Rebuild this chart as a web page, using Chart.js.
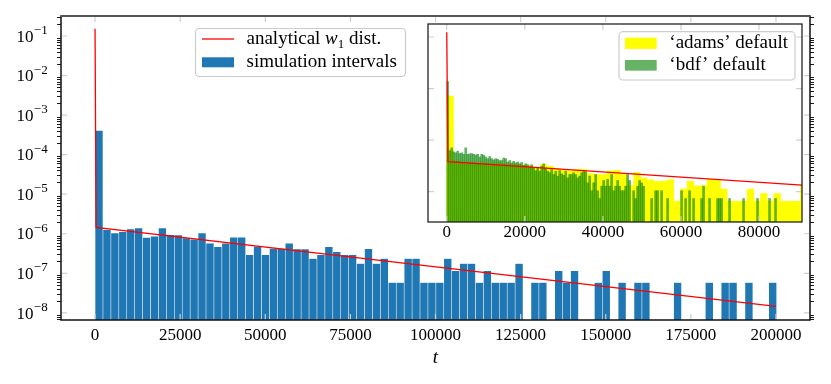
<!DOCTYPE html>
<html>
<head>
<meta charset="utf-8">
<script src="https://cdn.jsdelivr.net/npm/chart.js@4.4.1/dist/chart.umd.min.js"></script>
<style>
  html, body { margin: 0; padding: 0; background: #fff; }
  #wrap { position: relative; width: 831px; height: 384px; }
  #mainCanvas { position: absolute; left: 0; top: 0; }
  #insetCanvas { position: absolute; left: 400px; top: 0; }
</style>
</head>
<body>
<div id="wrap">
  <canvas id="mainCanvas" width="831" height="384"></canvas>
  <canvas id="insetCanvas" width="431" height="260"></canvas>
</div>
<script>
// ---- data ----
// main histogram ("simulation intervals"), density per bin
const simBinWidth = 2328;
const simDensity = [
  4.1e-4, 1.27e-6, 1.04e-6, 1.12e-6, 1.32e-6, 1.39e-6, 8.1e-7, 8.7e-7, 1.39e-6, 9.4e-7,
  9.3e-7, 7.8e-7, 7.3e-7, 1.04e-6, 5.8e-7, 4.7e-7, 5.8e-7, 8.2e-7, 8.2e-7, 2.94e-7,
  4.8e-7, 2.94e-7, 4.25e-7, 4.25e-7, 5.8e-7, 4.1e-7, 4.1e-7, 2.37e-7, 2.94e-7, 4.7e-7,
  3.5e-7, 2.94e-7, 2.94e-7, 1.77e-7, 4.2e-7, 1.77e-7, 2.37e-7, 5.85e-8, 5.85e-8, 2.37e-7,
  2.37e-7, 5.85e-8, 5.85e-8, 5.85e-8, 2.37e-7, 1.17e-7, 1.77e-7, 1.77e-7, 5.85e-8, 1.17e-7,
  5.85e-8, 5.85e-8, 5.85e-8, 1.77e-7, 0, 5.85e-8, 5.85e-8, 0, 1.17e-7, 5.85e-8,
  1.17e-7, 0, 0, 5.85e-8, 1.17e-7, 0, 5.85e-8, 0, 5.85e-8, 5.85e-8,
  0, 0, 0, 5.85e-8, 0, 0, 0, 5.85e-8, 0, 5.85e-8,
  5.85e-8, 0, 5.85e-8, 0, 0, 5.85e-8
];

// analytical w1 distribution (spike at 0, then exponential tail)
const w1T = [0, 300, 200000];
const w1P = [0.152, 1.45e-6, 1.45e-8];

// inset: 'adams' default
const adamsBinWidth = 1710;
const adamsDensity = [
  5.1e-4, 1.5e-6, 1.4e-6, 1.4e-6, 1.3e-6, 1.35e-6, 1.25e-6, 1.3e-6, 1.2e-6, 1.15e-6,
  1.1e-6, 1.05e-6, 1.0e-6, 8.4e-7, 1.13e-6, 9.5e-7, 8.0e-7, 7.2e-7, 6.3e-7, 7.2e-7,
  7.2e-7, 5.0e-7, 4.6e-7, 4.6e-7, 6.3e-7, 6.7e-7, 4.6e-7, 1.68e-7, 5.5e-7, 3.4e-7,
  2.9e-7, 2.5e-7, 2.5e-7, 2.9e-7, 4.2e-8, 1.26e-7, 2.52e-7, 1.68e-7, 1.68e-7, 2.94e-7,
  2.94e-7, 1.26e-7, 4.2e-8, 4.2e-8, 4.2e-8, 1.26e-7, 4.2e-8, 8.4e-8, 4.2e-8, 8.4e-8,
  4.2e-8, 4.2e-8, 4.2e-8, 1.68e-7
];

// inset: 'bdf' default
const bdfBinWidth = 512;
const bdfDensity = [
  1.86e-3, 3.9e-6, 5.0e-6, 3.5e-6, 3.2e-6, 3.7e-6, 3.0e-6, 3.2e-6, 2.8e-6, 5.0e-6,
  2.8e-6, 2.9e-6, 3.0e-6, 2.8e-6, 2.6e-6, 2.8e-6, 2.2e-6, 2.8e-6, 2.6e-6, 2.2e-6,
  1.9e-6, 2.3e-6, 1.9e-6, 1.7e-6, 1.9e-6, 1.8e-6, 1.6e-6, 1.6e-6, 2.0e-6, 1.9e-6,
  1.4e-6, 1.6e-6, 1.3e-6, 1.5e-6, 1.3e-6, 1.4e-6, 1.2e-6, 1.35e-6, 1.05e-6, 1.2e-6,
  1.1e-6, 9.7e-7, 1.1e-6, 8.0e-7, 6.5e-7, 8.3e-7, 6.2e-7, 9.7e-7, 1.2e-6, 8.3e-7,
  6.2e-7, 5.4e-7, 7.2e-7, 4.6e-7, 6.2e-7, 4.0e-7, 6.5e-7, 4.9e-7, 4.3e-7, 6.2e-7,
  3.4e-7, 4.6e-7, 4.6e-7, 5.4e-7, 4.6e-7, 3.4e-7, 4.0e-7, 5.4e-7, 6.2e-7, 5.9e-7,
  2.2e-7, 4.0e-7, 1.08e-7, 2.2e-7, 4.6e-7, 1.08e-7, 5.4e-8, 1.62e-7, 2.7e-7, 1.62e-7,
  3.0e-7, 1.62e-7, 4.6e-7, 1.08e-7, 1.62e-7, 2.7e-7, 1.62e-7, 1.08e-7, 1.08e-7, 1.62e-7,
  4.6e-7, 2.7e-7, 0, 1.08e-7, 5.4e-8, 1.62e-7, 2.7e-7, 2.16e-7, 1.62e-7, 0,
  0, 0, 5.4e-8, 0, 1.08e-7, 1.08e-7, 0, 1.08e-7, 0, 0,
  5.4e-8, 0, 0, 0, 0, 0, 0, 1.08e-7, 0, 5.4e-8,
  0, 1.08e-7, 0, 5.4e-8, 0, 0, 0, 5.4e-8, 1.62e-7, 0,
  0, 5.4e-8, 0, 0, 0, 5.4e-8, 5.4e-8, 5.4e-8, 0, 0,
  0, 5.4e-8, 0, 0, 0, 0, 0, 0, 5.4e-8, 0,
  0, 0, 0, 0, 0, 5.4e-8, 0, 0, 0, 0,
  0, 5.4e-8, 0, 0, 5.4e-8
];

const mainXTicks = [0, 25000, 50000, 75000, 100000, 125000, 150000, 175000, 200000];
const insetXTicks = [0, 20000, 40000, 60000, 80000];
const mainYDecades = [-8, -7, -6, -5, -4, -3, -2, -1];
const insetYDecades = [-7, -5, -3, -1];

const yMin = 6.6e-9, yMax = 0.32;
const serif = '"Liberation Serif", "DejaVu Serif", serif';

function toBars(values, width) {
  return values.map((v, i) => ({ x: (i + 0.5) * width, y: v }));
}
function toLine(ts, ps) {
  return ts.map((t, i) => ({ x: t, y: ps[i] }));
}

function drawLegend(ctx, box, rows) {
  ctx.save();
  ctx.beginPath();
  if (ctx.roundRect) ctx.roundRect(box.x, box.y, box.w, box.h, 4);
  else ctx.rect(box.x, box.y, box.w, box.h);
  ctx.fillStyle = 'rgba(255,255,255,0.8)';
  ctx.fill();
  ctx.strokeStyle = '#cccccc';
  ctx.lineWidth = 1.2;
  ctx.stroke();
  rows.forEach(r => {
    if (r.kind === 'line') {
      ctx.strokeStyle = r.color;
      ctx.lineWidth = 1.3;
      ctx.beginPath();
      ctx.moveTo(r.hx, r.hy);
      ctx.lineTo(r.hx + r.hw, r.hy);
      ctx.stroke();
    } else {
      ctx.fillStyle = r.color;
      ctx.fillRect(r.hx, r.hy - r.hh / 2, r.hw, r.hh);
    }
    let tx = r.tx;
    ctx.fillStyle = '#000';
    ctx.textBaseline = 'alphabetic';
    ctx.textAlign = 'left';
    r.parts.forEach(p => {
      ctx.font = (p.italic ? 'italic ' : '') + (p.size || 19) + 'px ' + serif;
      ctx.fillText(p.text, tx, r.ty + (p.dy || 0));
      tx += ctx.measureText(p.text).width;
    });
  });
  ctx.restore();
}

const whiteBg = {
  id: 'whiteBg',
  beforeDraw(chart) {
    const ctx = chart.ctx;
    ctx.save();
    ctx.fillStyle = '#fff';
    ctx.fillRect(0, 0, chart.width, chart.height);
    ctx.restore();
  }
};

const mainDecor = {
  id: 'mainDecor',
  afterDatasetsDraw(chart) {
    const { ctx, chartArea: a, scales: { x, y } } = chart;
    ctx.save();
    // major ticks, pointing in, light grey
    ctx.strokeStyle = '#cfcfcf';
    ctx.lineWidth = 1.2;
    ctx.beginPath();
    mainXTicks.forEach(v => {
      const px = x.getPixelForValue(v);
      ctx.moveTo(px, a.bottom); ctx.lineTo(px, a.bottom - 6);
      ctx.moveTo(px, a.top); ctx.lineTo(px, a.top + 6);
    });
    mainYDecades.forEach(d => {
      const py = y.getPixelForValue(Math.pow(10, d));
      ctx.moveTo(a.left, py); ctx.lineTo(a.left + 6, py);
      ctx.moveTo(a.right, py); ctx.lineTo(a.right - 6, py);
    });
    ctx.stroke();
    // minor ticks, pointing out, black
    ctx.strokeStyle = '#000';
    ctx.lineWidth = 0.9;
    ctx.beginPath();
    for (let d = -9; d <= 0; d++) {
      for (let m = 2; m <= 9; m++) {
        const v = m * Math.pow(10, d);
        if (v < y.min || v > y.max) continue;
        const py = Math.round(y.getPixelForValue(v)) + 0.5;
        ctx.moveTo(a.left, py); ctx.lineTo(a.left - 4, py);
        ctx.moveTo(a.right, py); ctx.lineTo(a.right + 4, py);
      }
    }
    ctx.stroke();
    // frame
    ctx.strokeStyle = '#111';
    ctx.lineWidth = 1.5;
    ctx.beginPath();
    ctx.moveTo(a.left, a.top); ctx.lineTo(a.left, a.bottom);
    ctx.lineTo(a.right, a.bottom); ctx.lineTo(a.right, a.top);
    ctx.stroke();
    ctx.strokeStyle = '#555';
    ctx.lineWidth = 2;
    ctx.beginPath();
    ctx.moveTo(a.left - 0.75, a.top); ctx.lineTo(a.right + 0.75, a.top);
    ctx.stroke();
    // y tick labels 10^n
    ctx.fillStyle = '#000';
    ctx.textAlign = 'left';
    ctx.textBaseline = 'alphabetic';
    mainYDecades.forEach(d => {
      const py = y.getPixelForValue(Math.pow(10, d));
      ctx.font = '17px ' + serif;
      ctx.fillText('10', 16.5, py + 5.7);
      ctx.font = '13px ' + serif;
      ctx.fillText('\u2212' + (-d), 33.8, py - 2);
    });
    ctx.restore();
  },
  afterDraw(chart) {
    drawLegend(chart.ctx, { x: 195.5, y: 28.5, w: 210, h: 48 }, [
      { kind: 'line', color: '#ff0000', hx: 202, hw: 32, hy: 39, tx: 246.5, ty: 44,
        parts: [{ text: 'analytical ' }, { text: 'w', italic: true }, { text: '1', size: 13, dy: 3.5 }, { text: ' dist.' }] },
      { kind: 'patch', color: '#1f77b4', hx: 202, hw: 32, hy: 62.3, hh: 10, tx: 246.5, ty: 67,
        parts: [{ text: 'simulation intervals' }] }
    ]);
  }
};

const insetDecor = {
  id: 'insetDecor',
  beforeDraw(chart) {
    const { ctx, chartArea: a } = chart;
    ctx.save();
    ctx.fillStyle = '#fff';
    ctx.fillRect(a.left, a.top, a.right - a.left, a.bottom - a.top);
    ctx.restore();
  },
  afterDatasetsDraw(chart) {
    const { ctx, chartArea: a, scales: { x, y } } = chart;
    ctx.save();
    ctx.strokeStyle = '#cfcfcf';
    ctx.lineWidth = 1.2;
    ctx.beginPath();
    insetXTicks.forEach(v => {
      const px = x.getPixelForValue(v);
      ctx.moveTo(px, a.bottom); ctx.lineTo(px, a.bottom - 6);
      ctx.moveTo(px, a.top); ctx.lineTo(px, a.top + 6);
    });
    insetYDecades.forEach(d => {
      const py = y.getPixelForValue(Math.pow(10, d));
      ctx.moveTo(a.left, py); ctx.lineTo(a.left + 6, py);
      ctx.moveTo(a.right, py); ctx.lineTo(a.right - 6, py);
    });
    ctx.stroke();
    ctx.strokeStyle = '#111';
    ctx.lineWidth = 1.2;
    ctx.strokeRect(a.left, a.top, a.right - a.left, a.bottom - a.top);
    ctx.restore();
  },
  afterDraw(chart) {
    drawLegend(chart.ctx, { x: 219, y: 31.7, w: 176, h: 48.3 }, [
      { kind: 'patch', color: '#ffff00', hx: 225, hw: 31.7, hy: 43.3, hh: 11.3, tx: 269.3, ty: 48,
        parts: [{ text: '\u2018adams\u2019 default' }] },
      { kind: 'patch', color: 'rgba(0,128,0,0.6)', hx: 225, hw: 31.7, hy: 65.3, hh: 10.7, tx: 269.3, ty: 70,
        parts: [{ text: '\u2018bdf\u2019 default' }] }
    ]);
  }
};

const barStyle = { barPercentage: 1, categoryPercentage: 1, grouped: false };

new Chart(document.getElementById('mainCanvas'), {
  type: 'bar',
  data: {
    datasets: [
      { type: 'line', label: 'analytical w1 dist.', data: toLine(w1T, w1P),
        borderColor: '#ff0000', borderWidth: 1.3, pointRadius: 0, tension: 0, order: 0 },
      Object.assign({ type: 'bar', label: 'simulation intervals', data: toBars(simDensity, simBinWidth),
        backgroundColor: '#1f77b4', borderColor: 'rgba(255,255,255,0.16)', borderWidth: 0.6, order: 2 }, barStyle)
    ]
  },
  options: {
    responsive: false,
    animation: false,
    events: [],
    devicePixelRatio: 1,
    layout: { padding: { left: 61, top: 16, right: 21, bottom: 0 } },
    plugins: { legend: { display: false }, tooltip: { enabled: false } },
    scales: {
      x: {
        type: 'linear', offset: false, min: -10000, max: 210000,
        afterBuildTicks: s => { s.ticks = mainXTicks.map(v => ({ value: v })); },
        afterFit: s => { s.height = 64; },
        grid: { display: false, drawTicks: false },
        border: { display: false },
        ticks: { font: { family: serif, size: 17 }, color: '#000', padding: 5,
          maxRotation: 0, autoSkip: false, callback: v => String(v) },
        title: { display: true, text: 't', color: '#000',
          font: { family: serif, size: 19, style: 'italic' }, padding: { top: 0, bottom: 15 } }
      },
      y: { type: 'logarithmic', display: false, min: yMin, max: yMax }
    }
  },
  plugins: [whiteBg, mainDecor]
});

new Chart(document.getElementById('insetCanvas'), {
  type: 'bar',
  data: {
    datasets: [
      { type: 'line', data: toLine(w1T, w1P), xAxisID: 'x',
        borderColor: '#ff0000', borderWidth: 1.3, pointRadius: 0, tension: 0, order: 0 },
      Object.assign({ type: 'bar', label: "'bdf' default", data: toBars(bdfDensity, bdfBinWidth), xAxisID: 'x',
        backgroundColor: 'rgba(0,128,0,0.6)', borderWidth: 0, order: 1 }, barStyle),
      Object.assign({ type: 'bar', label: "'adams' default", data: toBars(adamsDensity, adamsBinWidth), xAxisID: 'x2',
        backgroundColor: '#ffff00', borderWidth: 0, order: 2 }, barStyle)
    ]
  },
  options: {
    responsive: false,
    animation: false,
    events: [],
    devicePixelRatio: 1,
    layout: { padding: { left: 28, top: 24, right: 29, bottom: 0 } },
    plugins: { legend: { display: false }, tooltip: { enabled: false } },
    scales: {
      x: {
        type: 'linear', offset: false, min: -4800, max: 91000,
        afterBuildTicks: s => { s.ticks = insetXTicks.map(v => ({ value: v })); },
        afterFit: s => { s.height = 38; },
        grid: { display: false, drawTicks: false },
        border: { display: false },
        ticks: { font: { family: serif, size: 17 }, color: '#000', padding: 0,
          maxRotation: 0, autoSkip: false, callback: v => String(v) }
      },
      x2: { type: 'linear', offset: false, display: false, min: -4800, max: 91000 },
      y: { type: 'logarithmic', display: false, min: yMin, max: yMax }
    }
  },
  plugins: [insetDecor]
});
</script>
</body>
</html>
